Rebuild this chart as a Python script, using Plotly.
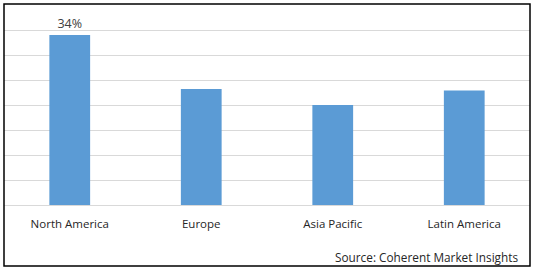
import plotly.graph_objects as go

regions = ["North America", "Europe", "Asia Pacific", "Latin America"]
shares = [34, 23.2, 20, 22.9]
bar_labels = ["34%", "", "", ""]
source_text = "Source: Coherent Market Insights"

W, H = 538, 272
ml, mr, mt, mb = 4, 8, 5, 67
ph = H - mt - mb

fig = go.Figure(go.Bar(
    x=regions, y=shares, text=bar_labels, textposition="outside",
    textfont=dict(size=12.5, color="#404040", family="Open Sans"),
    marker=dict(color="#5B9BD5", line=dict(width=0)),
    cliponaxis=False,
))

fig.update_layout(
    width=W, height=H,
    margin=dict(l=ml, r=mr, t=mt, b=mb),
    paper_bgcolor="white", plot_bgcolor="white",
    bargap=0.69, showlegend=False,
    font=dict(family="Open Sans", size=11, color="#404040"),
    xaxis=dict(showgrid=False, showline=False, ticks="", ticklabelstandoff=10,
               tickfont=dict(size=11.5, color="#262626")),
    yaxis=dict(range=[0, 40], dtick=5, showticklabels=False, showline=False,
               gridcolor="#d9d9d9", gridwidth=1, zeroline=True,
               zerolinecolor="#d9d9d9", zerolinewidth=1, ticks=""),
    shapes=[dict(type="rect", xref="paper", yref="paper",
                 x0=0, x1=1, y0=-(266 - 205) / ph, y1=1 + 1 / ph,
                 line=dict(color="black", width=1.5))],
    annotations=[dict(text=source_text, xref="paper", yref="paper",
                      x=(520 - ml) / (W - ml - mr), y=-(257 - 205) / ph,
                      xanchor="right", yanchor="middle", showarrow=False,
                      font=dict(size=11.8, color="#262626"))],
)

fig.write_html("out.html")
